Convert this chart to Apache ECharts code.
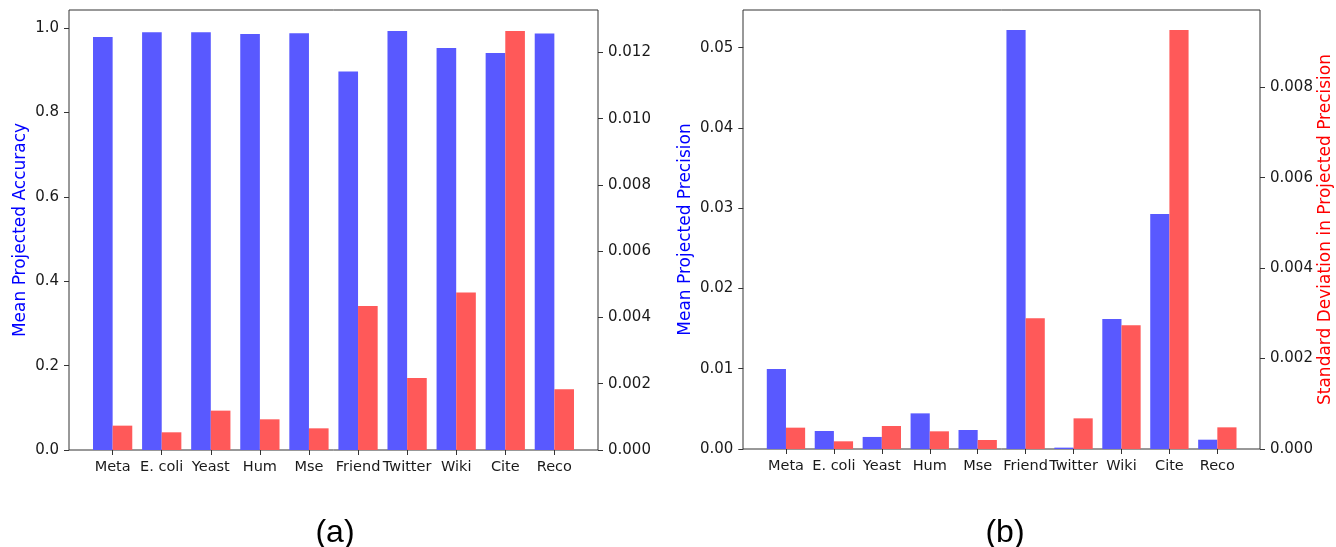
<!DOCTYPE html>
<html>
<head>
<meta charset="utf-8">
<script src="https://cdn.jsdelivr.net/npm/echarts@6/dist/echarts.min.js"></script>
<style>
html,body{margin:0;padding:0;background:#fff;}
#chart{width:1336px;height:547px;}
</style>
</head>
<body>
<div id="chart"></div>
<script>
const categories = ['Meta', 'E. coli', 'Yeast', 'Hum', 'Mse', 'Friend', 'Twitter', 'Wiki', 'Cite', 'Reco'];

// Panel (a)
const meanAccuracy = [0.979, 0.990, 0.990, 0.986, 0.988, 0.897, 0.993, 0.953, 0.941, 0.987];
const stdAccuracy = [0.000735, 0.000534, 0.001188, 0.000926, 0.000654, 0.004349, 0.002174, 0.004752, 0.012644, 0.001832];

// Panel (b)
const meanPrecision = [0.00997, 0.00224, 0.00150, 0.00444, 0.00237, 0.0522, 0.00017, 0.0162, 0.02928, 0.00116];
const stdPrecision = [0.000472, 0.000170, 0.000509, 0.000391, 0.000199, 0.00289, 0.000678, 0.002735, 0.009268, 0.000479];

// Tick labels
const ticksAccLeft = [0, 0.2, 0.4, 0.6, 0.8, 1.0];
const ticksAccRight = [0, 0.002, 0.004, 0.006, 0.008, 0.010, 0.012];
const ticksPrecLeft = [0, 0.01, 0.02, 0.03, 0.04, 0.05];
const ticksPrecRight = [0, 0.002, 0.004, 0.006, 0.008];

const FONT = 'DejaVu Sans';
const TXT = '#1a1a1a';
const AXC = '#333';
const BLUE = '#5959ff';
const RED = '#ff5959';

function yAx(gridIndex, pos, max, ticks, digits, offset, name, nameColor, nameGap) {
  return {
    type: 'value', gridIndex, position: pos, min: 0, max, offset,
    splitLine: {show: false},
    axisLine: {show: false},
    axisTick: {show: true, length: 5, inside: false, customValues: ticks, lineStyle: {color: AXC, width: 1}},
    axisLabel: {show: true, customValues: ticks, margin: 10, color: TXT, fontFamily: FONT, fontSize: 15,
      formatter: v => Number(v).toFixed(digits)},
    name: name || '', nameLocation: 'middle', nameRotate: 90, nameGap: nameGap || 0,
    nameTextStyle: {color: nameColor || TXT, fontFamily: FONT, fontSize: 17}
  };
}
function xCat(gridIndex) {
  return {
    type: 'category', gridIndex, data: categories, position: 'bottom',
    axisLine: {show: false},
    axisTick: {show: true, alignWithLabel: true, length: 5, lineStyle: {color: AXC}},
    axisLabel: {color: TXT, fontFamily: FONT, fontSize: 14.5, margin: 10, interval: 0}
  };
}

const option = {
  backgroundColor: '#fff',
  animation: false,
  title: [
    {text: '(a)', left: 330, top: 512, textAlign: 'center',
     textStyle: {fontFamily: 'Liberation Sans', fontSize: 32, fontWeight: 'normal', color: '#000'}},
    {text: '(b)', left: 1000, top: 512, textAlign: 'center',
     textStyle: {fontFamily: 'Liberation Sans', fontSize: 32, fontWeight: 'normal', color: '#000'}}
  ],
  grid: [
    // frames
    {left: 69, top: 10, width: 529, height: 440, show: true, borderColor: AXC, borderWidth: 1, backgroundColor: 'transparent'},
    {left: 743, top: 10, width: 517, height: 439, show: true, borderColor: AXC, borderWidth: 1, backgroundColor: 'transparent'},
    // bar areas
    {left: 88.1, top: 10, width: 490.8, height: 440},
    {left: 762, top: 10, width: 479.3, height: 439}
  ],
  xAxis: [
    {type: 'value', gridIndex: 0, show: false},
    {type: 'value', gridIndex: 1, show: false},
    xCat(2),
    xCat(3)
  ],
  yAxis: [
    {type: 'value', gridIndex: 0, show: false},
    {type: 'value', gridIndex: 1, show: false},
    yAx(2, 'left', 1.043, ticksAccLeft, 1, 19.1, 'Mean Projected Accuracy', '#0000ff', 40),
    yAx(2, 'right', 0.01328, ticksAccRight, 3, 19.1),
    yAx(3, 'left', 0.05469, ticksPrecLeft, 2, 18.7, 'Mean Projected Precision', '#0000ff', 49.5),
    yAx(3, 'right', 0.00971, ticksPrecRight, 3, 18.7, 'Standard Deviation in Projected Precision', '#ff0000', 56)
  ],
  series: [
    {type: 'bar', name: 'Mean Projected Accuracy', xAxisIndex: 2, yAxisIndex: 2, data: meanAccuracy,
     barWidth: '40%', barGap: '0%', itemStyle: {color: BLUE}},
    {type: 'bar', name: 'Std Accuracy', xAxisIndex: 2, yAxisIndex: 3, data: stdAccuracy,
     barWidth: '40%', barGap: '0%', itemStyle: {color: RED}},
    {type: 'bar', name: 'Mean Projected Precision', xAxisIndex: 3, yAxisIndex: 4, data: meanPrecision,
     barWidth: '40%', barGap: '0%', itemStyle: {color: BLUE}},
    {type: 'bar', name: 'Standard Deviation in Projected Precision', xAxisIndex: 3, yAxisIndex: 5, data: stdPrecision,
     barWidth: '40%', barGap: '0%', itemStyle: {color: RED}}
  ]
};

const chart = echarts.init(document.getElementById('chart'), null, {renderer: 'canvas'});
chart.setOption(option);
</script>
</body>
</html>
